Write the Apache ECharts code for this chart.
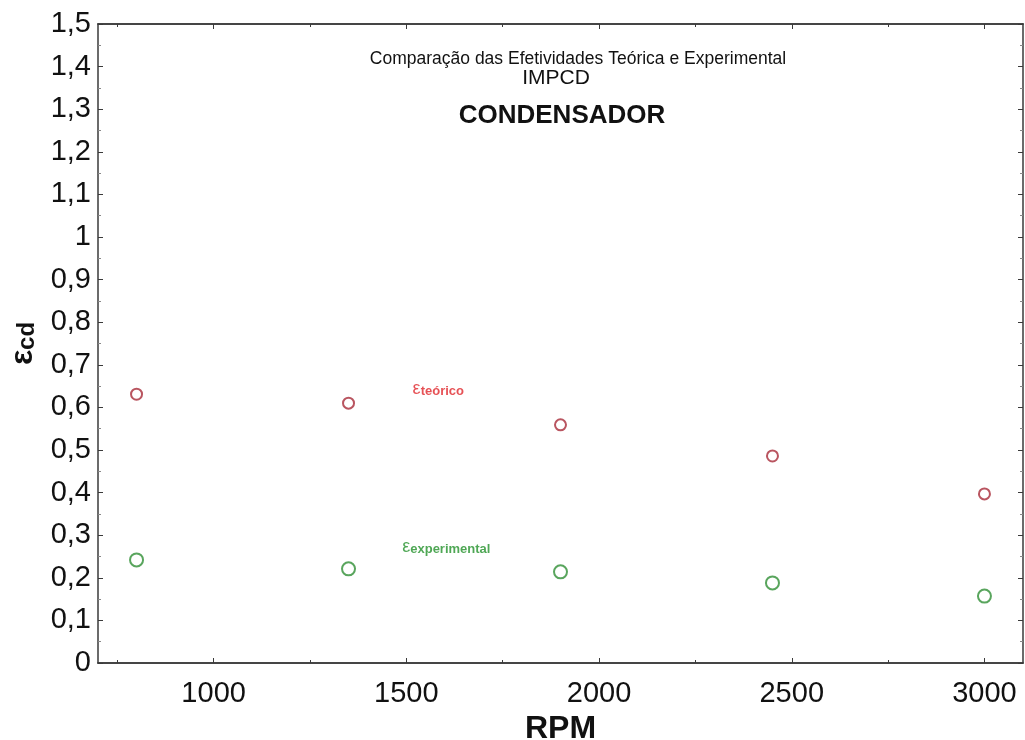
<!DOCTYPE html>
<html><head><meta charset="utf-8">
<script src="https://cdn.jsdelivr.net/npm/echarts@6/dist/echarts.min.js"></script>
<style>html,body{margin:0;padding:0;background:#fff}#c{width:1025px;height:740px}</style>
</head><body><div id="c"></div>
<script>
const rpm = [800, 1350, 1900, 2450, 3000];
const teorico = [0.631, 0.610, 0.559, 0.486, 0.397];
const experimental = [0.242, 0.221, 0.214, 0.188, 0.157];
const xMajor = [1000, 1500, 2000, 2500, 3000];
const xMinor = [750, 1250, 1750, 2250, 2750];
const titleLines = ['Comparação das Efetividades Teórica e Experimental', 'IMPCD', 'CONDENSADOR'];
const labelTeorico = [1515, 0.638];
const labelExp = [1488, 0.267];

const FONT = '"Liberation Sans", Arial, sans-serif';
const AX = '#3a3a3a';
const fmtY = v => String(+v.toFixed(1)).replace('.', ',');
const fmtX = v => String(Math.round(v));

function xAx(pos, ticks, len, labels) {
  return {
    type: 'value', position: pos, min: 700, max: 3100,
    axisLine: {show: true, onZero: false, lineStyle: {color: AX, width: 1.5}},
    axisTick: {show: true, inside: true, length: len, customValues: ticks, lineStyle: {color: AX, width: 1}},
    axisLabel: labels ? {show: true, customValues: ticks, formatter: fmtX, fontSize: 29, color: '#111', fontFamily: FONT, margin: 16} : {show: false},
    splitLine: {show: false}
  };
}
function yAx(pos, labels) {
  return {
    type: 'value', position: pos, min: 0, max: 1.5, interval: 0.1,
    axisLine: {show: true, onZero: false, lineStyle: {color: AX, width: 1.5}},
    axisTick: {show: true, inside: true, length: 5, lineStyle: {color: AX, width: 1}},
    minorTick: {show: true, splitNumber: 2, length: 3, lineStyle: {color: '#888', width: 1}},
    axisLabel: labels ? {show: true, fontSize: 29, color: '#111', fontFamily: FONT, margin: 7, formatter: fmtY} : {show: false},
    splitLine: {show: false}
  };
}

const chart = echarts.init(document.getElementById('c'), null, {renderer: 'canvas'});
const xb = xAx('bottom', xMajor, 5, true);
xb.name = 'RPM'; xb.nameLocation = 'middle'; xb.nameGap = 45;
xb.nameTextStyle = {fontSize: 32, fontWeight: 'bold', color: '#111', fontFamily: FONT};
const yl = yAx('left', true);
yl.name = '{e|ε}{s|cd}'; yl.nameLocation = 'middle'; yl.nameGap = 59; yl.nameRotate = 90;
yl.nameTextStyle = {fontFamily: FONT, color: '#111', rich: {
  e: {fontSize: 32, fontWeight: 'bold', fontFamily: FONT, color: '#111'},
  s: {fontSize: 24, fontWeight: 'bold', fontFamily: FONT, color: '#111', padding: [8, 0, 0, 0]}
}};

function labelSeries(pos, sub, color) {
  return {
    type: 'scatter', xAxisIndex: 0, yAxisIndex: 0, silent: true,
    data: [pos], symbol: 'circle', symbolSize: 1,
    itemStyle: {color: 'rgba(0,0,0,0)'},
    label: {show: true, position: 'right', distance: 0, formatter: '{e|ε}{s|' + sub + '}', rich: {
      e: {fontSize: 18, color: color, fontFamily: FONT, padding: [0, 0, 4, 0]},
      s: {fontSize: 13, fontWeight: 'bold', color: color, fontFamily: FONT}
    }}
  };
}

chart.setOption({
  animation: false,
  backgroundColor: '#fff',
  grid: {left: 98, right: 2, top: 24, bottom: 77, containLabel: false, outerBoundsMode: 'none'},
  title: [
    {text: titleLines[0], left: 578, top: 50, padding: 0, textAlign: 'center', textStyle: {fontSize: 17.5, fontWeight: 'normal', color: '#111', fontFamily: FONT}},
    {text: titleLines[1], left: 556, top: 68, padding: 0, textAlign: 'center', textStyle: {fontSize: 21, fontWeight: 'normal', color: '#111', fontFamily: FONT}},
    {text: titleLines[2], left: 562, top: 103, padding: 0, textAlign: 'center', textStyle: {fontSize: 26, fontWeight: 'bold', color: '#111', fontFamily: FONT}}
  ],
  xAxis: [xb, xAx('bottom', xMinor, 3, false), xAx('top', xMajor, 5, false), xAx('top', xMinor, 3, false)],
  yAxis: [yl, yAx('right', false)],
  series: [
    {
      name: 'teórico', type: 'scatter', xAxisIndex: 0, yAxisIndex: 0,
      data: rpm.map((x, i) => [x, teorico[i]]),
      symbol: 'circle', symbolSize: 11,
      itemStyle: {color: 'rgba(255,255,255,0)', borderColor: '#a82a38', borderWidth: 2}
    },
    {
      name: 'experimental', type: 'scatter', xAxisIndex: 0, yAxisIndex: 0,
      data: rpm.map((x, i) => [x, experimental[i]]),
      symbol: 'circle', symbolSize: 13,
      itemStyle: {color: 'rgba(255,255,255,0)', borderColor: '#2f8f35', borderWidth: 2}
    },
    labelSeries(labelTeorico, 'teórico', '#e0262b'),
    labelSeries(labelExp, 'experimental', '#23912a')
  ]
});
</script></body></html>
